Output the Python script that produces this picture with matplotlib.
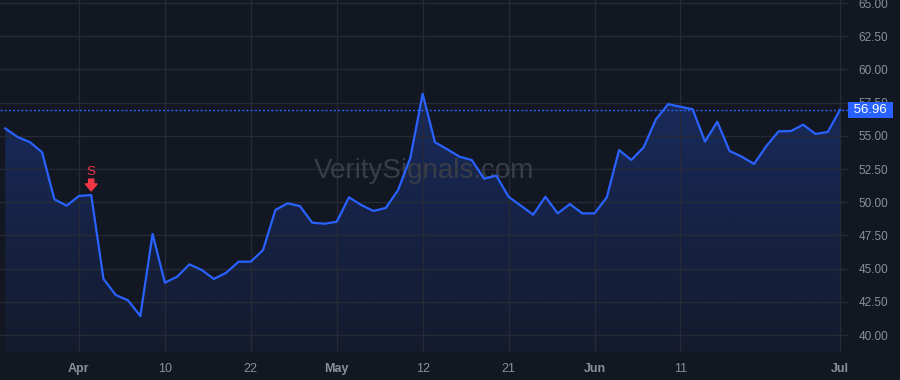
import numpy as np
import matplotlib
matplotlib.use("Agg")
import matplotlib.pyplot as plt
from matplotlib.patches import Polygon
from matplotlib.transforms import blended_transform_factory

# ---- data ----
prices = [55.56, 54.91, 54.53, 53.76, 50.22, 49.74, 50.47, 50.54, 44.22, 43.01,
          42.61, 41.43, 47.61, 43.94, 44.39, 45.32, 44.90, 44.22, 44.69, 45.52,
          45.52, 46.40, 49.41, 49.92, 49.71, 48.46, 48.38, 48.53, 50.37, 49.79,
          49.34, 49.57, 50.92, 53.35, 58.17, 54.52, 53.99, 53.43, 53.18, 51.77,
          52.00, 50.41, 49.74, 49.06, 50.41, 49.16, 49.86, 49.16, 49.16, 50.37,
          53.93, 53.18, 54.13, 56.24, 57.39, 57.19, 57.00, 54.56, 56.06, 53.86,
          53.43, 52.88, 54.23, 55.34, 55.36, 55.84, 55.14, 55.29, 56.96]
x_tick_pos = [6, 13, 20, 27, 34, 41, 48, 55, 68]
x_tick_labels = ["Apr", "10", "22", "May", "12", "21", "Jun", "11", "Jul"]
month_labels = {"Apr", "May", "Jun", "Jul"}
y_ticks = [40.0, 42.5, 45.0, 47.5, 50.0, 52.5, 55.0, 57.5, 60.0, 62.5, 65.0]
signal_idx = 7
signal_text = "S"
watermark = "VeritySignals.com"

# ---- style ----
BG = "#131722"
GRID = "#252a36"
LINE = "#2962ff"
TXT = "#8b8f9a"
RED = "#f23645"
plt.rcParams["font.family"] = ["Liberation Sans", "DejaVu Sans"]

W, H = 900, 380
fig = plt.figure(figsize=(W / 100, H / 100), dpi=100, facecolor=BG)
ax = fig.add_axes([0, 28 / H, 848 / W, 1 - 28 / H], facecolor=BG)

x = np.arange(len(prices))
y = np.array(prices)
ymin, ymax = 38.72, 65.23
xmin, xmax = -0.43, 68.65

# gradient fill under the line
verts = np.column_stack([np.r_[x[0], x, x[-1]], np.r_[ymin, y, ymin]])
poly = Polygon(verts, closed=True, facecolor="none", edgecolor="none")
ax.add_patch(poly)
n = 256
grad = np.zeros((n, 1, 4))
grad[:, 0, :3] = matplotlib.colors.to_rgb(LINE)
grad[:, 0, 3] = np.linspace(0.27, 0.05, n)
im = ax.imshow(grad, extent=[xmin, xmax, ymin, y.max()], origin="upper",
               aspect="auto", zorder=1, interpolation="bilinear")
im.set_clip_path(poly)
ax.set_ylim(ymin, ymax)
ax.set_xlim(xmin, xmax)

ax.plot(x, y, color=LINE, lw=1.6, zorder=3)

# last price dotted line
last = y[-1]
ax.axhline(last, color=LINE, lw=1.0, ls=(0, (1.5, 1.5)), zorder=2)

# grid
ax.set_yticks(y_ticks)
ax.set_xticks(x_tick_pos)
ax.grid(True, color=GRID, lw=1.0, zorder=0)
for s in ax.spines.values():
    s.set_visible(False)

ax.yaxis.tick_right()
ax.tick_params(axis="y", length=0, pad=7.5, labelsize=8.5, labelcolor=TXT)
ax.set_yticklabels([f"{v:.2f}" for v in y_ticks])
ax.tick_params(axis="x", length=0, pad=8, labelsize=9, labelcolor=TXT)
ax.set_xticklabels(x_tick_labels)
for lab in ax.get_xticklabels():
    if lab.get_text() in month_labels:
        lab.set_fontweight("bold")
for lab in ax.get_yticklabels():
    lab.set_horizontalalignment("left")

# price tag on the right axis
ax.annotate(f" {last:.2f} ", xy=(1.0, last), xycoords=("axes fraction", "data"),
            xytext=(1.6, 0), textcoords="offset points", ha="left", va="center",
            fontsize=9.5, color="white", zorder=10, annotation_clip=False,
            bbox=dict(boxstyle="square,pad=0.17", facecolor=LINE, edgecolor="none"))

# sell signal
sv = y[signal_idx]
ax.annotate(signal_text, xy=(signal_idx, sv), xytext=(0, 16.5),
            textcoords="offset points", ha="center", va="center",
            color=RED, fontsize=9.5, zorder=6)
ax.annotate("", xy=(signal_idx, sv), xytext=(0, 11.5), textcoords="offset points",
            arrowprops=dict(arrowstyle="simple,head_width=0.85,head_length=0.5,tail_width=0.38",
                            color=RED, shrinkA=0, shrinkB=3), zorder=6)

# watermark
ax.text(0.5, 0.515, watermark, transform=ax.transAxes, ha="center", va="center",
        fontsize=20, color="#393d48", zorder=2)

fig.savefig("out.png", dpi=100, facecolor=BG)
